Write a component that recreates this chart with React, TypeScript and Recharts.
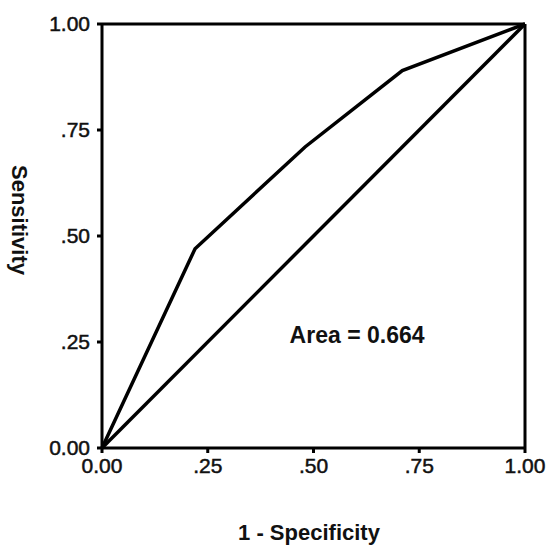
import { Label, Line, LineChart, ReferenceDot, ReferenceLine, XAxis, YAxis } from "recharts";

// ROC curve points (1 - specificity, sensitivity).
const rocX = [0, 0.22, 0.48, 0.71, 1];
const rocY = [0, 0.47, 0.71, 0.89, 1];
// Chance diagonal.
const diagX = [0, 1];
const diagY = [0, 1];
const ticks = [0, 0.25, 0.5, 0.75, 1];
const areaText = "Area = 0.664";

const FONT = "'Liberation Sans', Arial, sans-serif";

const roc = rocX.map((x, i) => ({ x, y: rocY[i] }));
const diag = diagX.map((x, i) => ({ x, y: diagY[i] }));

// SPSS style: 0.00 and 1.00 keep the leading digit, others drop it.
const fmt = (v: number) => (v === 0 || v === 1 ? v.toFixed(2) : v.toFixed(2).replace(/^0/, ""));

// scanned figure: regular digits look a little heavy, so add a thin stroke
const tickStyle = { fontSize: 21, fill: "#111", stroke: "#111", strokeWidth: 0.5, fontFamily: FONT };
const axisStroke = { stroke: "#000", strokeWidth: 3 };

export default function App() {
  return (
    <div style={{ position: "absolute", left: 0, top: 0, width: 548, height: 545, background: "#fff" }}>
      <LineChart width={548} height={545} margin={{ top: 24, right: 23, left: 0, bottom: 0 }}>
        <XAxis
          type="number"
          dataKey="x"
          domain={[0, 1]}
          ticks={ticks}
          tickFormatter={fmt}
          height={97}
          tick={tickStyle}
          tickSize={5}
          tickMargin={5}
          axisLine={axisStroke}
          tickLine={axisStroke}
        >
          <Label
            content={() => (
              <text x={309} y={540} textAnchor="middle" fontSize={22} fontWeight="bold" fontFamily={FONT} fill="#111">
                1 - Specificity
              </text>
            )}
          />
        </XAxis>
        <YAxis
          type="number"
          dataKey="y"
          domain={[0, 1]}
          ticks={ticks}
          tickFormatter={fmt}
          width={102}
          tick={tickStyle}
          tickSize={5}
          tickMargin={7}
          axisLine={axisStroke}
          tickLine={axisStroke}
        >
          <Label
            content={() => (
              <text
                x={19}
                y={220}
                transform="rotate(90 19 220)"
                textAnchor="middle"
                dominantBaseline="central"
                fontSize={22}
                fontWeight="bold"
                fontFamily={FONT}
                fill="#111"
              >
                Sensitivity
              </text>
            )}
          />
        </YAxis>
        <ReferenceLine y={1} stroke="#000" strokeWidth={3} />
        <ReferenceLine x={1} stroke="#000" strokeWidth={3} />
        <Line data={diag} dataKey="y" type="linear" stroke="#000" strokeWidth={3.5} dot={false} isAnimationActive={false} />
        <Line data={roc} dataKey="y" type="linear" stroke="#000" strokeWidth={3.5} dot={false} isAnimationActive={false} />
        <ReferenceDot
          x={0.603}
          y={0.267}
          r={0}
          stroke="none"
          label={{ value: areaText, position: "center", fontSize: 23, fontWeight: "bold", fontFamily: FONT, fill: "#111" }}
        />
      </LineChart>
    </div>
  );
}
